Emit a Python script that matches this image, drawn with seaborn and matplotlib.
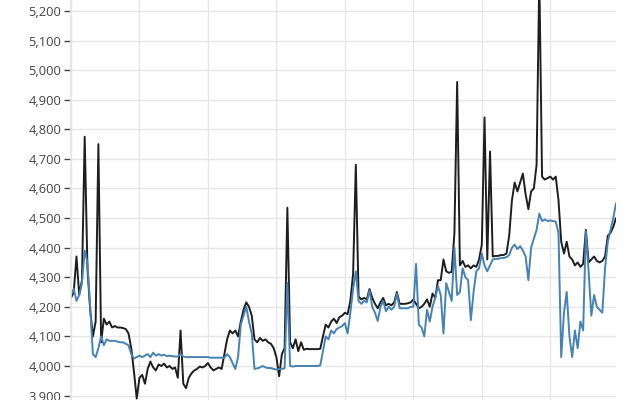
import numpy as np
import pandas as pd
import matplotlib.pyplot as plt
import seaborn as sns

# values, one sample per ~2.7 px
black = [
    4230, 4250, 4370, 4240, 4290, 4775, 4330, 4190, 4100, 4150, 4750, 4080, 4160, 4140, 4150, 4130, 4135, 4130, 4130, 4128, 4125, 4110, 4060, 3980, 3890,
    3960, 3970, 3940, 3990, 4015, 3995, 3985, 4005, 4000, 4008, 3995, 4000, 3990, 3995, 3960, 4120, 3940, 3925, 3960, 3975, 3985, 3990, 3998, 3995, 4000,
    4010, 3995, 3985, 3990, 3995, 3990, 4040, 4090, 4120, 4110, 4120, 4100, 4150, 4190, 4215, 4200, 4170, 4090, 4080, 4095, 4085, 4090, 4080, 4075, 4060,
    4030, 3965, 4040, 4060, 4535, 4080, 4060, 4090, 4050, 4080, 4055, 4058, 4057, 4057, 4057, 4057, 4058, 4100, 4140, 4130, 4150, 4160, 4145, 4165, 4170,
    4180, 4175, 4220, 4310, 4680, 4235, 4225, 4230, 4225, 4260, 4230, 4210, 4195, 4215, 4230, 4205, 4210, 4205, 4215, 4250, 4210, 4210, 4210, 4212, 4215,
    4225, 4210, 4195, 4200, 4210, 4225, 4200, 4245, 4230, 4290, 4290, 4360, 4320, 4315, 4318, 4450, 4960, 4340, 4355, 4335, 4340, 4330, 4340, 4335, 4360,
    4410, 4840, 4360, 4725, 4370, 4372, 4372, 4375, 4375, 4380, 4440, 4560, 4620, 4590, 4620, 4650, 4580, 4530, 4590, 4600, 4680, 5320, 4640, 4630, 4635,
    4640, 4630, 4640, 4560, 4420, 4380, 4420, 4370, 4360, 4340, 4350, 4335, 4345, 4460, 4350, 4360, 4370, 4355, 4350, 4355, 4370, 4440, 4450, 4470, 4500,
]
blue = [
    4240, 4260, 4220, 4240, 4280, 4390, 4350, 4200, 4040, 4030, 4060, 4100, 4070, 4090, 4085, 4085, 4085, 4082, 4080, 4080, 4075, 4070, 4040, 4025, 4030,
    4035, 4030, 4035, 4040, 4030, 4045, 4035, 4040, 4035, 4038, 4033, 4035, 4033, 4032, 4032, 4040, 4032, 4030, 4030, 4030, 4030, 4030, 4030, 4030, 4030,
    4030, 4028, 4028, 4028, 4028, 4028, 4028, 4040, 4030, 4010, 3990, 4030, 4140, 4170, 4200, 4150, 4110, 3990, 3992, 3995, 4000, 3995, 3993, 3993, 3990,
    3988, 3990, 3990, 3992, 4280, 4000, 3998, 4000, 4000, 4000, 4000, 4000, 4000, 4000, 4000, 4000, 4002, 4050, 4100, 4090, 4120, 4110, 4125, 4130, 4135,
    4145, 4110, 4180, 4260, 4320, 4220, 4210, 4220, 4215, 4255, 4200, 4180, 4152, 4200, 4220, 4185, 4200, 4190, 4200, 4245, 4195, 4195, 4195, 4195, 4200,
    4200, 4345, 4140, 4130, 4100, 4190, 4150, 4200, 4230, 4270, 4240, 4110, 4280, 4250, 4220, 4400, 4240, 4250, 4330, 4300, 4290, 4155, 4250, 4320, 4330,
    4380, 4340, 4320, 4340, 4360, 4362, 4362, 4365, 4365, 4368, 4375, 4400, 4410, 4395, 4405, 4390, 4370, 4290, 4400, 4430, 4460, 4515, 4490, 4495, 4490,
    4492, 4490, 4488, 4450, 4030, 4180, 4250, 4100, 4030, 4120, 4060, 4150, 4120, 4455, 4320, 4170, 4240, 4200, 4190, 4180, 4330, 4420, 4460, 4500, 4550,
]
y_ticks = [3900, 4000, 4100, 4200, 4300, 4400, 4500, 4600, 4700, 4800, 4900, 5000, 5100, 5200]

x = np.arange(len(black))

sns.set_theme(style="whitegrid")
plt.rcParams['font.family'] = ['Open Sans', 'DejaVu Sans']

fig = plt.figure(figsize=(6.4, 4), dpi=100)
ax = fig.add_axes([71 / 640, 0, 545 / 640, 1])

sns.lineplot(x=x, y=black, color="#1e1e1e", linewidth=1.4, ax=ax)
sns.lineplot(x=x, y=blue, color="#4682b4", linewidth=1.4, ax=ax)

ax.set_xlim(0, len(x) - 1)
ax.set_ylim(3885, 5237)
ax.set_yticks(y_ticks)
ax.set_yticklabels([f"{v:,}" for v in y_ticks])
ax.set_xticks(range(0, len(x), 25))
ax.tick_params(axis='x', labelbottom=False, length=0)
ax.tick_params(axis='y', left=True, length=5, width=1, color='#444444',
               labelsize=9.3, labelcolor='#444444', pad=2)
ax.grid(True, color='#e6e6e6', linewidth=1)
for side in ['top', 'right', 'bottom']:
    ax.spines[side].set_visible(False)
ax.spines['left'].set_color('#e6e6e6')
ax.set_xlabel("")
ax.set_ylabel("")

fig.savefig("out.png", dpi=100)
